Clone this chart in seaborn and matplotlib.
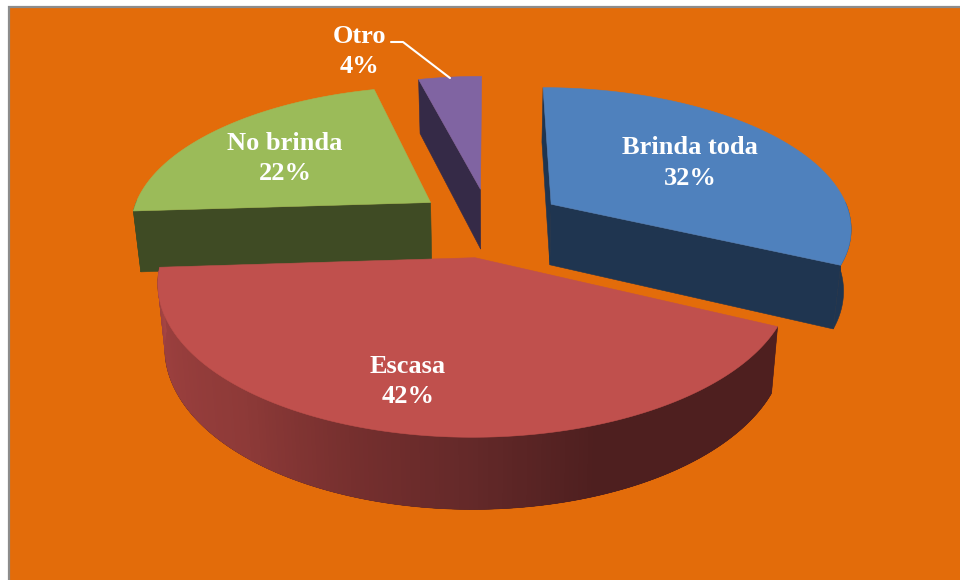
import matplotlib.pyplot as plt
import numpy as np
import seaborn as sns

# data
names = ['Brinda toda', 'Escasa', 'No brinda', 'Otro']
values = [32, 42, 22, 4]

# colours
top_colors = ['#4F81BD', '#C0504D', '#9BBB59', '#8064A2']
side_colors = ['#1F3550', '#4B1E1E', '#3F4B24', '#352A47']
background = '#E36C0A'
shade_angles = [160, 180, 198, 220, 258, 267]
shade_colors = np.array([[0x4E, 0x1F, 0x1F], [0x64, 0x29, 0x29], [0x75, 0x2F, 0x2E],
                         [0x8E, 0x3A, 0x38], [0x9F, 0x41, 0x40], [0xA6, 0x46, 0x44]]) / 255

# camera settings of the 3d pie, in pixels
cx, cy, vy = 489.5, 222.0, -700.0
persp = 0.000512
tilt_a = 922.4
squash = 0.983
radius = 301.0
explode = 74.5
depth = 61.5
shrink = 0.979


def project(x, y, bottom=False):
    x, y = np.asarray(x, dtype=float), np.asarray(y, dtype=float)
    w = 1 + persp * y
    sx = x / w
    sy = cy + (vy + tilt_a / w - cy) * squash
    if bottom:
        return cx + sx * shrink, sy + depth / w ** 0.75
    return cx + sx, sy


def face(ax, x, y, color, lw=0.4):
    ax.fill(x, y, color=color, lw=lw, zorder=3)


sns.set_theme(style='white')
palette = sns.color_palette(top_colors)

fig, ax = plt.subplots(figsize=(9.6, 5.8), dpi=100)
ax.set_position([0, 0, 1, 1])
ax.set_xlim(0, 960)
ax.set_ylim(580, 0)
ax.set_xticks([])
ax.set_yticks([])
sns.despine(ax=ax, left=True, bottom=True)
ax.add_patch(plt.Rectangle((9, 6.5), 970, 600, fc=background, ec='#8C8C8C', lw=1.6, zorder=1))

# slice angles, clockwise from the top
edges = np.cumsum([0] + values) * 3.6
slices = []
for i in range(len(values)):
    mid = np.radians((edges[i] + edges[i + 1]) / 2)
    ox, oy = explode * np.sin(mid), explode * np.cos(mid)
    slices.append((oy, i, ox))

# back slices first
for oy, i, ox in sorted(slices, reverse=True):
    t = np.radians(np.linspace(edges[i], edges[i + 1], 200))
    arc_x = ox + radius * np.sin(t)
    arc_y = oy + radius * np.cos(t)
    view_x = -ox / 1000

    # radial walls, only those that face the camera
    walls = [(t[0], -np.cos(t[0]), np.sin(t[0])), (t[-1], np.cos(t[-1]), -np.sin(t[-1]))]
    for a, nx, ny in walls:
        if nx * view_x - ny > 0.02:
            ex, ey = ox + radius * np.sin(a), oy + radius * np.cos(a)
            xa, ya = project([ox, ex], [oy, ey])
            xb, yb = project([ox, ex], [oy, ey], bottom=True)
            face(ax, [xa[0], xa[1], xb[1], xb[0]], [ya[0], ya[1], yb[1], yb[0]], side_colors[i])

    # outer wall, front part only. The big slice has the gradient
    front = np.cos(t) < 0.02
    if front.sum() > 1:
        xa, ya = project(arc_x[front], arc_y[front])
        xb, yb = project(arc_x[front], arc_y[front], bottom=True)
        face(ax, np.concatenate([xa, xb[::-1]]), np.concatenate([ya, yb[::-1]]), side_colors[i])
        if names[i] == 'Escasa':
            deg = np.degrees(t[front])
            n = len(deg)
            for j in range(n - 1):
                k = min(j + 3, n - 1)
                shade = [np.interp(deg[j], shade_angles, shade_colors[:, c]) for c in range(3)]
                face(ax, [xa[j], xa[k], xb[k], xb[j]], [ya[j], ya[k], yb[k], yb[j]], shade, lw=0)

    xt, yt = project(np.concatenate([[ox], arc_x]), np.concatenate([[oy], arc_y]))
    face(ax, xt, yt, palette[i])

# labels
label_pos = [(690, 163), (408, 381.5), (285, 158.5), (359, 51.5)]
for i in range(len(names)):
    ax.text(label_pos[i][0], label_pos[i][1], f'{names[i]}\n{values[i]}%', color='white',
            family='Liberation Serif', weight='bold', fontsize=19, ha='center', va='center',
            linespacing=1.42, zorder=5)

ax.plot([391, 403, 450], [42, 42, 78], color='white', lw=1.5, zorder=5)

fig.savefig('out.png', dpi=100)
